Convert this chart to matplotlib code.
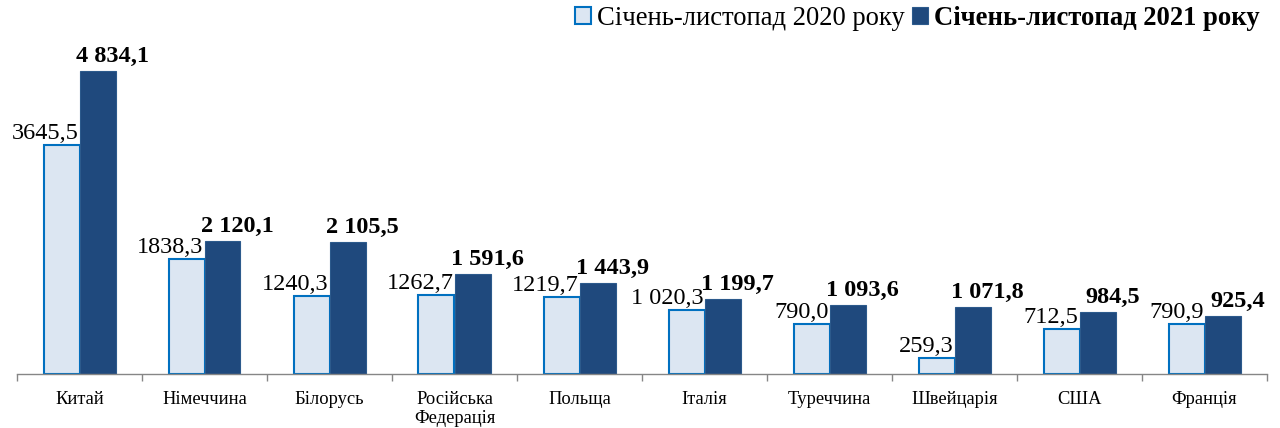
import matplotlib
matplotlib.use("Agg")
import matplotlib.pyplot as plt
from matplotlib.patches import Patch
from matplotlib.transforms import offset_copy
import numpy as np

plt.rcParams['font.family'] = ['Liberation Serif', 'DejaVu Serif']

categories = ["Китай", "Німеччина", "Білорусь", "Російська\nФедерація", "Польща",
              "Італія", "Туреччина", "Швейцарія", "США", "Франція"]
values_2020 = [3645.5, 1838.3, 1240.3, 1262.7, 1219.7, 1020.3, 790.0, 259.3, 712.5, 790.9]
values_2021 = [4834.1, 2120.1, 2105.5, 1591.6, 1443.9, 1199.7, 1093.6, 1071.8, 984.5, 925.4]
labels_2020 = ["3645,5", "1838,3", "1240,3", "1262,7", "1219,7", "1 020,3", "790,0", "259,3", "712,5", "790,9"]
labels_2021 = ["4 834,1", "2 120,1", "2 105,5", "1 591,6", "1 443,9", "1 199,7", "1 093,6", "1 071,8", "984,5", "925,4"]
legend_labels = ["Січень-листопад 2020 року", "Січень-листопад 2021 року"]

c_light = "#DCE6F2"
c_light_edge = "#0070C0"
c_dark = "#1F497D"
c_dark_edge = "#2C5A8C"
axis_grey = "#868686"

fig = plt.figure(figsize=(12.8, 4.28), dpi=100)
ax = fig.add_axes([17/1280, 1 - 374/428, 1250/1280, 313/428])

x = np.arange(len(categories))
w = 0.288
ax.bar(x - w/2, values_2020, width=w, color=c_light, edgecolor=c_light_edge, linewidth=1.5, zorder=2)
ax.bar(x + w/2, values_2021, width=w, color=c_dark, edgecolor=c_dark_edge, linewidth=0.8, zorder=2)

ax.set_xlim(-0.5, len(categories) - 0.5)
ax.set_ylim(0, 4990)

for s in ["top", "right", "left"]:
    ax.spines[s].set_visible(False)
ax.spines["bottom"].set_color(axis_grey)
ax.spines["bottom"].set_linewidth(1.0)
ax.set_yticks([])

ax.set_xticks(np.arange(len(categories) + 1) - 0.5)
ax.set_xticklabels([])
ax.tick_params(axis="x", which="major", length=5, color=axis_grey, width=1.0, direction="out")
ax.set_xticks(x, minor=True)
ax.set_xticklabels(categories, minor=True, fontsize=13.3, linespacing=1.2)
ax.tick_params(axis="x", which="minor", length=0, pad=12)

# 2020 labels: right-aligned at the right edge of the 2020 bar
tr20 = offset_copy(ax.transData, fig=fig, x=-1, y=6, units="dots")
for xi, v, lab in zip(x, values_2020, labels_2020):
    ax.text(xi, v, lab, transform=tr20, ha="right", va="baseline", fontsize=17.5)

# 2021 labels: bold, shifted to the right of the 2021 bar centre
tr21 = offset_copy(ax.transData, fig=fig, x=15, y=9, units="dots")
for xi, v, lab in zip(x, values_2021, labels_2021):
    ax.text(xi + w/2, v, lab, transform=tr21, ha="center", va="baseline", fontsize=17.5, fontweight="bold")

handles = [Patch(facecolor=c_light, edgecolor=c_light_edge, linewidth=1.5),
           Patch(facecolor=c_dark, edgecolor=c_dark_edge, linewidth=0.8)]
leg = fig.legend(handles, legend_labels, loc="upper right", bbox_to_anchor=(1270/1280, 1.012),
                 ncol=2, frameon=False, fontsize=19.2, handlelength=0.6, handleheight=0.6,
                 handletextpad=0.2, columnspacing=0.3, borderaxespad=0.0)
leg.get_texts()[1].set_fontweight("bold")

fig.savefig("out.png", dpi=100)
